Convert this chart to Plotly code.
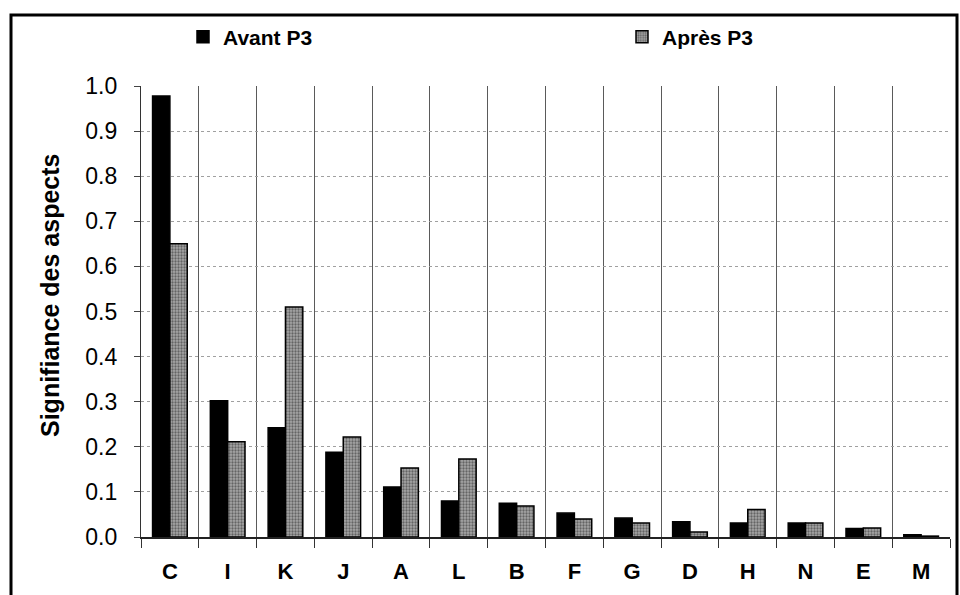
import plotly.graph_objects as go

# Aspects, ranked, with their significance before and after P3
aspects = ["C", "I", "K", "J", "A", "L", "B", "F", "G", "D", "H", "N", "E", "M"]
avant_p3 = [0.978, 0.302, 0.242, 0.188, 0.111, 0.080, 0.075, 0.053, 0.042, 0.034, 0.031, 0.031, 0.019, 0.005]
apres_p3 = [0.650, 0.211, 0.510, 0.222, 0.153, 0.173, 0.069, 0.040, 0.031, 0.011, 0.061, 0.031, 0.020, 0.002]
y_ticks = [0.0, 0.1, 0.2, 0.3, 0.4, 0.5, 0.6, 0.7, 0.8, 0.9, 1.0]

FONT = "Liberation Sans, Arial, sans-serif"

L, R, T, B = 141, 10, 86, 58
W, H = 960, 595
pw, ph = W - L - R, H - T - B


def px_x(x):
    return (x - L) / pw


def px_y(y):
    return (H - B - y) / ph


fig = go.Figure()
fig.add_trace(go.Bar(
    x=aspects, y=avant_p3, name="Avant P3", legend="legend",
    marker=dict(color="#000000", line=dict(color="#000000", width=1.5)),
))
fig.add_trace(go.Bar(
    x=aspects, y=apres_p3, name="Après P3", legend="legend2",
    marker=dict(
        color="#8c8c8c",
        line=dict(color="#000000", width=1.5),
        pattern=dict(shape=".", fgcolor="#222222", bgcolor="#a6a6a6", size=3, solidity=0.45),
    ),
))

legend_font = dict(family=FONT, size=21, color="#000000", weight="bold")

fig.update_layout(
    width=W, height=H,
    margin=dict(l=L, r=R, t=T, b=B, pad=0),
    paper_bgcolor="white", plot_bgcolor="white",
    barmode="group", bargap=0.4, bargroupgap=0.0,
    font=dict(family=FONT, color="#000000"),
    showlegend=True,
    legend=dict(
        orientation="h", x=px_x(183), y=px_y(37), xanchor="left", yanchor="middle",
        font=legend_font, itemwidth=30, bgcolor="rgba(0,0,0,0)",
    ),
    legend2=dict(
        orientation="h", x=px_x(622), y=px_y(37), xanchor="left", yanchor="middle",
        font=legend_font, itemwidth=30, bgcolor="rgba(0,0,0,0)",
    ),
    xaxis=dict(
        type="category", tickson="boundaries",
        showgrid=True, gridcolor="#5a5a5a", gridwidth=1.2,
        ticks="outside", ticklen=9, tickcolor="#333333", tickwidth=1,
        ticklabelstandoff=14,
        tickfont=dict(family=FONT, size=22, color="#000000", weight="bold"),
        showline=True, linecolor="#222222", linewidth=1.5,
        range=[-0.5, len(aspects) - 0.5],
    ),
    yaxis=dict(
        range=[0, 1.0], tickvals=y_ticks, ticktext=[f"{v:.1f}" for v in y_ticks],
        showgrid=True, gridcolor="#a0a0a0", gridwidth=1, griddash="dot",
        ticks="outside", ticklen=6, tickcolor="#444444",
        ticklabelstandoff=12,
        tickfont=dict(family=FONT, size=23, color="#000000"),
        showline=True, linecolor="#333333", linewidth=1.2,
        zeroline=False,
    ),
    annotations=[dict(
        text="<b>Signifiance des aspects</b>", textangle=-90,
        xref="paper", yref="paper", x=px_x(50), y=px_y(296),
        xanchor="center", yanchor="middle", showarrow=False,
        font=dict(family=FONT, size=25, color="#000000"),
    )],
    shapes=[dict(
        type="rect", xref="paper", yref="paper",
        x0=px_x(11), x1=px_x(957), y0=px_y(620), y1=px_y(15),
        line=dict(color="#000000", width=3), fillcolor="rgba(0,0,0,0)", layer="above",
    )],
)

fig.write_html("out.html")
